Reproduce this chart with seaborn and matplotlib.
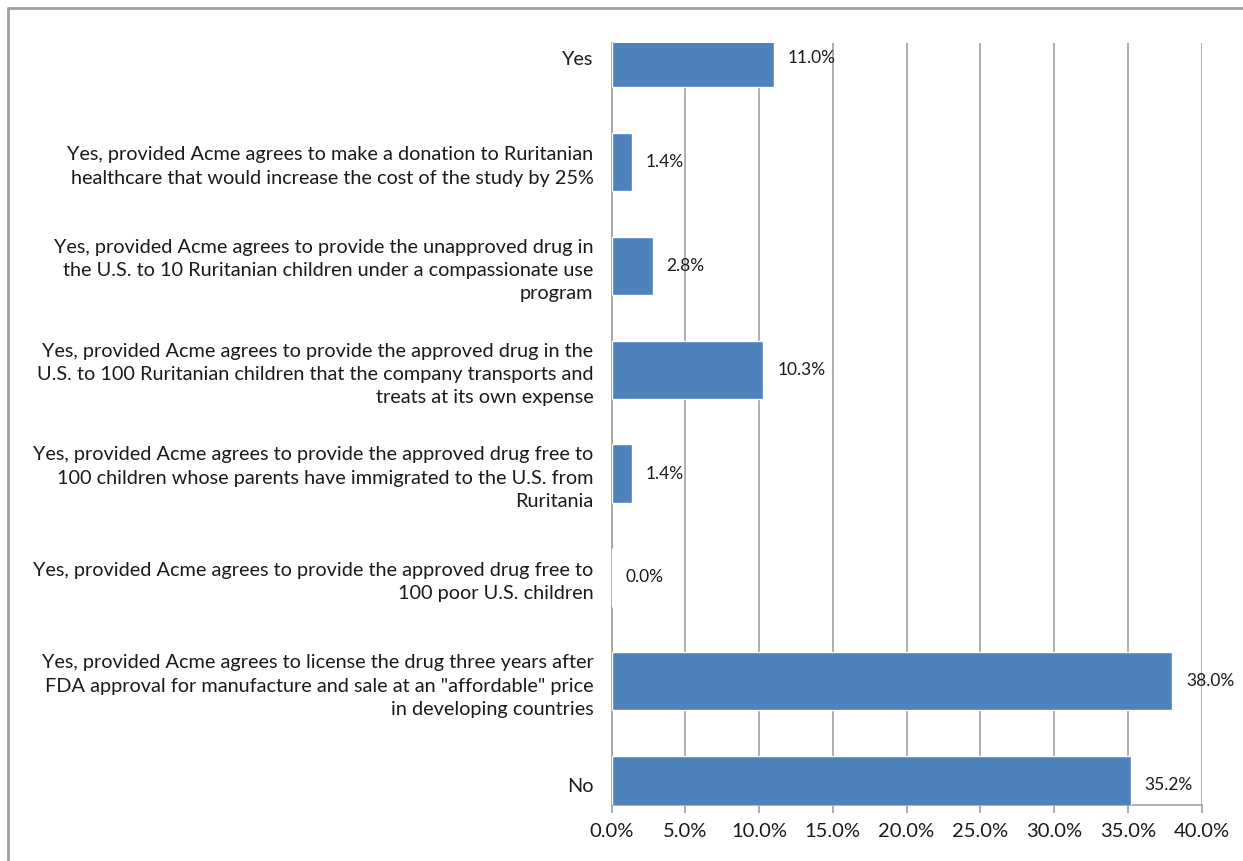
import matplotlib
matplotlib.use("Agg")
import matplotlib.pyplot as plt
import seaborn as sns
import pandas as pd
from matplotlib.lines import Line2D
from matplotlib.ticker import FuncFormatter

categories = [
    "Yes",
    "Yes, provided Acme agrees to make a donation to Ruritanian\nhealthcare that would increase the cost of the study by 25%",
    "Yes, provided Acme agrees to provide the unapproved drug in\nthe U.S. to 10 Ruritanian children under a compassionate use\nprogram",
    "Yes, provided Acme agrees to provide the approved drug in the\nU.S. to 100 Ruritanian children that the company transports and\ntreats at its own expense",
    "Yes, provided Acme agrees to provide the approved drug free to\n100 children whose parents have immigrated to the U.S. from\nRuritania",
    "Yes, provided Acme agrees to provide the approved drug free to\n100 poor U.S. children",
    "Yes, provided Acme agrees to license the drug three years after\nFDA approval for manufacture and sale at an \"affordable\" price\nin developing countries",
    "No",
]
values = [11.0, 1.4, 2.8, 10.3, 1.4, 0.0, 38.0, 35.2]
x_ticks = [0, 5, 10, 15, 20, 25, 30, 35, 40]

df = pd.DataFrame({"category": categories, "value": values})

sns.set_style("white")
plt.rcParams["font.family"] = ["Lato", "DejaVu Sans"]

fig = plt.figure(figsize=(12.43, 8.61), dpi=100)
ax = fig.add_axes([611.5 / 1243, 56 / 861, 590 / 1243, 762 / 861])

sns.barplot(data=df, y="category", x="value", orient="h", color="#4F81BD",
            saturation=1, width=0.56, ax=ax, zorder=3)

ax.set_xlim(0, 40)
ax.set_ylim(7.19, -0.144)
ax.set_xticks(x_ticks)
ax.xaxis.set_major_formatter(FuncFormatter(lambda v, p: f"{v:.1f}%"))
ax.set_xlabel("")
ax.set_ylabel("")

ax.grid(axis="x", color="#A0A0A0", linewidth=1.2, zorder=0)
ax.grid(axis="y", visible=False)
ax.set_axisbelow(True)

for s in ["top", "right"]:
    ax.spines[s].set_visible(False)
for s in ["left", "bottom"]:
    ax.spines[s].set_color("#A0A0A0")
    ax.spines[s].set_linewidth(1.2)

ax.tick_params(axis="x", direction="out", length=6, color="#A0A0A0", width=1.2,
               labelsize=14.5, pad=7, labelcolor="#1a1a1a", bottom=True)
ax.tick_params(axis="y", length=0, labelsize=14.3, pad=13, labelcolor="#1a1a1a")
for lab in ax.get_yticklabels():
    lab.set_linespacing(1.45)

for c in ax.containers:
    ax.bar_label(c, fmt="%.1f%%", padding=10, fontsize=12.5, color="#1a1a1a")

fig.add_artist(Line2D([8 / 1243, 8 / 1243], [0, 1 - 8 / 861], color="#A0A0A0", lw=2,
                      transform=fig.transFigure))
fig.add_artist(Line2D([8 / 1243, 1], [1 - 8 / 861, 1 - 8 / 861], color="#A0A0A0", lw=2,
                      transform=fig.transFigure))

fig.savefig("out.png", dpi=100)
